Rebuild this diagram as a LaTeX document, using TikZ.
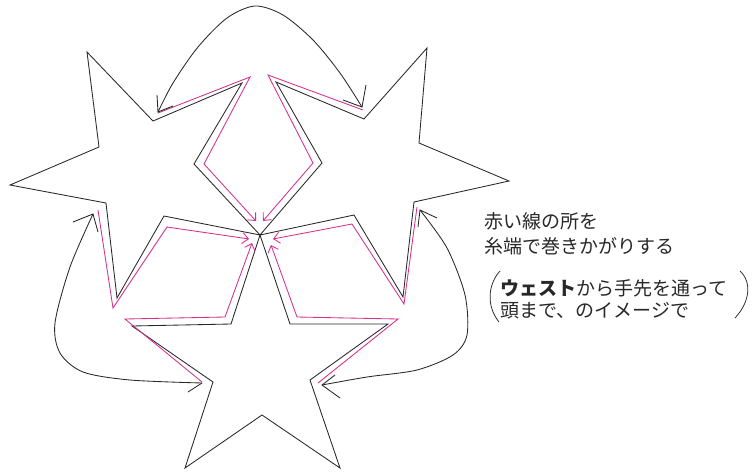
\documentclass[tikz,border=0pt]{standalone}
\usepackage{fontspec}
\newfontfamily\jpfont{Noto Sans CJK JP}
\usetikzlibrary{arrows.meta}
\definecolor{inkline}{RGB}{40,40,40}
\definecolor{pinkline}{RGB}{214,48,140}
\begin{document}
\begin{tikzpicture}[x=1pt,y=-1pt,
  starline/.style={draw=inkline,line width=0.85pt,line join=miter},
  pinkpath/.style={draw=pinkline,line width=0.85pt,line join=miter,-{Straight Barb[length=6pt,width=11pt,line width=0.85pt]}},
  curvearrow/.style={draw=inkline,line width=0.85pt},
  barb/.style={draw=inkline,line width=0.85pt},
  paren/.style={draw=inkline,line width=0.75pt},
  jptext/.style={font=\jpfont\fontsize{19}{22}\selectfont,text=inkline,inner sep=0pt,anchor=west}]
\useasboundingbox[fill=white] (0,0) rectangle (755,472);

% centre where the three stars meet
\coordinate (c) at (260,235);

% star A (top left)
\draw[starline] (87,52) -- (153,121) -- (242,83) -- (194,164) -- (c)
  -- (164,216) -- (117,298) -- (106,203) -- (10,185) -- (99,147) -- cycle;
% star B (top right)
\draw[starline] (427,48) -- (419,143) -- (509,181) -- (414,202) -- (403,297)
  -- (354,215) -- (c) -- (322,163) -- (276,82) -- (364,119) -- cycle;
% star C (bottom)
\draw[starline] (c) -- (231,324) -- (132,326) -- (213,382) -- (185,468)
  -- (262,415) -- (340,468) -- (310,380) -- (388,324) -- (290,324) -- cycle;

% pink lines
\draw[pinkpath] (158,113) -- (250,77) -- (204,164) -- (256,221);
\draw[pinkpath] (363,110) -- (268,75) -- (313,163) -- (263,221);
\draw[pinkpath] (98,210) -- (113,308) -- (167,227) -- (249,239);
\draw[pinkpath] (202,382) -- (125,319) -- (225,317) -- (252,243);
\draw[pinkpath] (318,383) -- (398,319) -- (297,317) -- (271,245);
\draw[pinkpath] (417,207) -- (404,304) -- (352,224) -- (273,239);

% curved double arrows
\coordinate (t1) at (158,112);
\coordinate (t2) at (362,107);
\draw[curvearrow] plot[smooth] coordinates {(t1) (173,83) (198,47) (227,18) (255,6) (283,15) (313,40) (340,73) (t2)};
\draw[barb] (157,95) -- (t1) -- (173,106);
\draw[barb] (366,85) -- (t2) -- (343,100);

\coordinate (l1) at (93,214);
\coordinate (l2) at (202,383);
\draw[curvearrow] plot[smooth] coordinates {(l1) (70,267) (55,323) (60,353) (83,372) (130,380) (l2)};
\draw[barb] (73,222) -- (l1) -- (98,232);
\draw[barb] (188,392) -- (l2);

\coordinate (r1) at (420,210);
\coordinate (r2) at (322,385);
\draw[curvearrow] plot[smooth] coordinates {(r1) (447,248) (465,295) (467,335) (453,355) (417,370) (367,377) (r2)};
\draw[barb] (437,218) -- (r1) -- (418,227);
\draw[barb] (335,375) -- (r2) -- (340,398);

% text
\node[jptext] (t1text) at (484,221) {赤い線の所を};
\node[jptext] (t2text) at (484,246) {糸端で巻きかがりする};
\node[jptext] (t3text) at (500,288) {{\bfseries ウェスト}から手先を通って};
\node[jptext] (t4text) at (500,311) {頭まで、のイメージで};

% hand-drawn parentheses
\draw[paren] (500,271) .. controls (488,284) and (486,306) .. (499,322);
\draw[paren] (740,271) .. controls (752,282) and (750,302) .. (735,318);
\end{tikzpicture}
\end{document}
